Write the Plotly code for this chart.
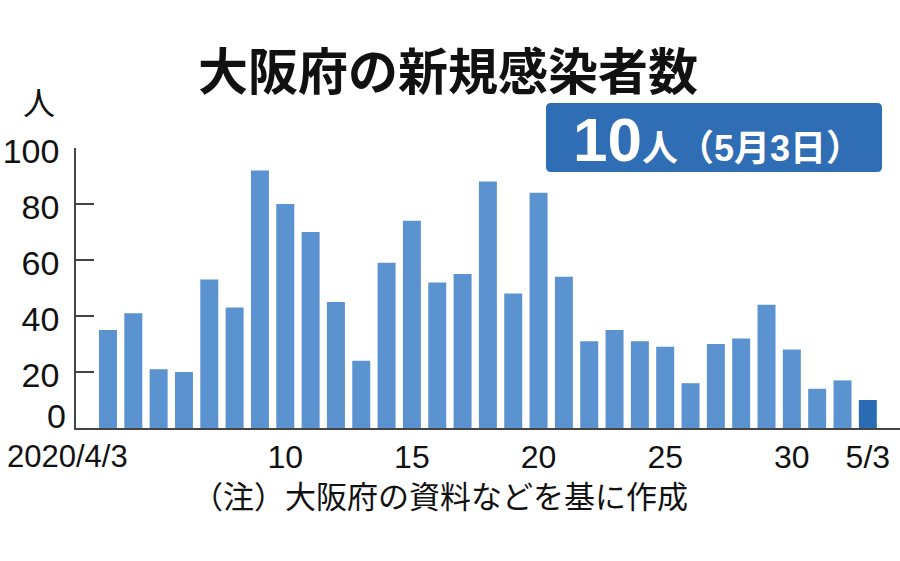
import plotly.graph_objects as go

# ---- data ----
dates = [
    "2020-04-03", "2020-04-04", "2020-04-05", "2020-04-06", "2020-04-07",
    "2020-04-08", "2020-04-09", "2020-04-10", "2020-04-11", "2020-04-12",
    "2020-04-13", "2020-04-14", "2020-04-15", "2020-04-16", "2020-04-17",
    "2020-04-18", "2020-04-19", "2020-04-20", "2020-04-21", "2020-04-22",
    "2020-04-23", "2020-04-24", "2020-04-25", "2020-04-26", "2020-04-27",
    "2020-04-28", "2020-04-29", "2020-04-30", "2020-05-01", "2020-05-02",
    "2020-05-03",
]
new_cases = [35, 41, 21, 20, 53, 43, 92, 80, 70, 45, 24, 59, 74, 52, 55, 88,
             48, 84, 54, 31, 35, 31, 29, 16, 30, 32, 44, 28, 14, 17, 10]
x_tick_vals = ["2020-04-10", "2020-04-15", "2020-04-20", "2020-04-25",
               "2020-04-30", "2020-05-03"]
x_tick_text = ["10", "15", "20", "25", "30", "5/3"]
first_tick_text = "2020/4/3"
y_tick_vals = [20, 40, 60, 80, 100]
y_zero_label = "0"

title_text = "大阪府の新規感染者数"
unit_text = "人"
highlight_big = "10"
highlight_small = "人（5月3日）"
note_text = "（注）大阪府の資料などを基に作成"

BAR = "#5b93d0"
BAR_LAST = "#2c6cb4"
BOX = "#2f6db4"
AXIS = "#444444"
NUM_FONT = "Liberation Sans Narrow, Arial Narrow, Liberation Sans, sans-serif"
CJK_FONT = "Noto Sans CJK JP, Noto Sans CJK SC, sans-serif"

colors = [BAR] * (len(new_cases) - 1) + [BAR_LAST]

fig = go.Figure(go.Bar(
    x=dates, y=new_cases, marker=dict(color=colors, line=dict(width=0)),
    hoverinfo="skip",
))

# rounded box (paper coords), 546..882 px wide, 103..172 px tall
bx0, bx1, by0, by1 = 0.5704, 0.9782, 0.9143, 1.1607
rx, ry = 0.0061, 0.0179
box_path = (f"M {bx0+rx} {by1} L {bx1-rx} {by1} Q {bx1} {by1} {bx1} {by1-ry} "
            f"L {bx1} {by0+ry} Q {bx1} {by0} {bx1-rx} {by0} L {bx0+rx} {by0} "
            f"Q {bx0} {by0} {bx0} {by0+ry} L {bx0} {by1-ry} Q {bx0} {by1} {bx0+rx} {by1} Z")

fig.update_layout(
    width=900, height=561,
    margin=dict(l=76, r=0, t=148, b=133, autoexpand=False),
    paper_bgcolor="white", plot_bgcolor="white",
    showlegend=False, bargap=0.29,
    xaxis=dict(
        type="date",
        range=["2020-04-01 17:42", "2020-05-04 06:29"],
        tickmode="array", tickvals=x_tick_vals, ticktext=x_tick_text,
        ticks="", showgrid=False, zeroline=False,
        showline=True, linecolor=AXIS, linewidth=1.5,
        tickfont=dict(family=NUM_FONT, size=32, color="#111"),
        automargin=False, fixedrange=True,
    ),
    yaxis=dict(
        range=[0, 100], tickmode="array", tickvals=y_tick_vals,
        ticks="inside", ticklen=18, tickwidth=1.5, tickcolor=AXIS,
        showgrid=False, zeroline=False,
        showline=True, linecolor=AXIS, linewidth=1.5,
        tickfont=dict(family=NUM_FONT, size=34, color="#111"),
        ticklabelstandoff=8, ticklabelshift=3,
        automargin=False, fixedrange=True,
    ),
    shapes=[dict(
        type="path", xref="paper", yref="paper", path=box_path,
        fillcolor=BOX, line=dict(width=0), layer="above",
    )],
)

annotations = [
    dict(text=f"<b>{title_text}</b>", xref="paper", yref="paper",
         x=0.451, y=1.0, yshift=80, xanchor="center", yanchor="middle",
         showarrow=False, font=dict(family=CJK_FONT, size=50, color="#111")),
    dict(text=unit_text, xref="paper", yref="paper", x=0, xshift=-37,
         y=1.0, yshift=47, xanchor="center", yanchor="middle",
         showarrow=False, font=dict(family=CJK_FONT, size=32, color="#111")),
    dict(text=(f"<b><span style='font-size:62px'>{highlight_big}</span>"
               f"<span style='font-size:36px'>{highlight_small}</span></b>"),
         xref="paper", yref="paper", x=0.778, y=1.0286, xanchor="center",
         yanchor="middle", showarrow=False,
         font=dict(family="Liberation Sans, " + CJK_FONT, size=36, color="white")),
    dict(text=y_zero_label, xref="paper", yref="y", x=0, xshift=-8,
         y=0, yshift=12, xanchor="right", yanchor="middle", showarrow=False,
         font=dict(family=NUM_FONT, size=34, color="#111")),
    dict(text=first_tick_text, xref="x", yref="paper", x=dates[0], xshift=22,
         y=0, yshift=-9, xanchor="right", yanchor="top", showarrow=False,
         font=dict(family=NUM_FONT, size=31, color="#111")),
    dict(text=note_text, xref="paper", yref="paper", x=0.138, y=0,
         yshift=-42, xanchor="left", yanchor="top", showarrow=False,
         font=dict(family=CJK_FONT, size=31, color="#111")),
]
fig.update_layout(annotations=annotations)

fig.write_html("out.html", config={"displayModeBar": False},
               post_script="document.body.style.margin='0';")
